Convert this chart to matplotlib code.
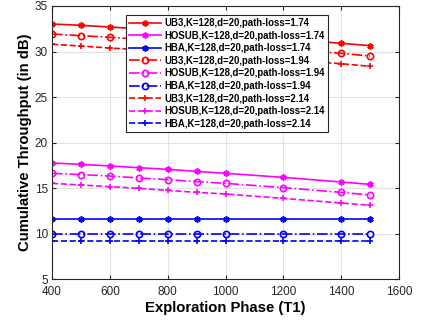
#!/usr/bin/env python3
import numpy as np
import matplotlib
matplotlib.use("Agg")
import matplotlib.pyplot as plt

# Exploration phase lengths (x axis)
t1 = [400, 500, 600, 700, 800, 900, 1000, 1200, 1400, 1500]

# Cumulative throughput (dB) per algorithm / path-loss exponent
ub3_174 = [33.02, 32.88, 32.69, 32.50, 32.30, 32.10, 31.85, 31.40, 30.90, 30.64]
hosub_174 = [17.75, 17.60, 17.42, 17.23, 17.05, 16.83, 16.61, 16.17, 15.66, 15.40]
hba_174 = [11.63] * 10
ub3_194 = [31.92, 31.74, 31.56, 31.35, 31.15, 30.95, 30.75, 30.30, 29.80, 29.50]
hosub_194 = [16.61, 16.47, 16.32, 16.10, 15.92, 15.70, 15.51, 15.04, 14.52, 14.23]
hba_194 = [9.91] * 10
ub3_214 = [30.79, 30.60, 30.38, 30.20, 30.00, 29.80, 29.55, 29.10, 28.66, 28.37]
hosub_214 = [15.51, 15.33, 15.15, 14.96, 14.74, 14.52, 14.34, 13.86, 13.35, 13.10]
hba_214 = [9.21] * 10

plt.rcParams["font.family"] = ["Liberation Sans", "DejaVu Sans"]

series = [
    ("UB3,K=128,d=20,path-loss=1.74", ub3_174, "red", "-", (6, 2, 0)),
    ("HOSUB,K=128,d=20,path-loss=1.74", hosub_174, "magenta", "-", (6, 2, 0)),
    ("HBA,K=128,d=20,path-loss=1.74", hba_174, "blue", "-", (6, 2, 0)),
    ("UB3,K=128,d=20,path-loss=1.94", ub3_194, "red", "-.", "o"),
    ("HOSUB,K=128,d=20,path-loss=1.94", hosub_194, "magenta", "-.", "o"),
    ("HBA,K=128,d=20,path-loss=1.94", hba_194, "blue", "-.", "o"),
    ("UB3,K=128,d=20,path-loss=2.14", ub3_214, "red", "--", "+"),
    ("HOSUB,K=128,d=20,path-loss=2.14", hosub_214, "magenta", "--", "+"),
    ("HBA,K=128,d=20,path-loss=2.14", hba_214, "blue", "--", "+"),
]

fig = plt.figure(figsize=(4.21, 3.26), dpi=100)
ax = fig.add_axes([52 / 421, 1 - 279 / 326, 347 / 421, 273 / 326])

for label, vals, color, ls, mk in series:
    ax.plot(
        t1,
        vals,
        color=color,
        linestyle=ls,
        linewidth=1.2,
        marker=mk,
        markersize=4.5,
        markerfacecolor="none",
        markeredgewidth=1.2,
        label=label,
    )

ax.set_xlim(400, 1600)
ax.set_ylim(5, 35)
ax.set_xticks(np.arange(400, 1601, 200))
ax.set_yticks(np.arange(5, 36, 5))
ax.tick_params(axis="both", direction="in", labelsize=8.5, top=True, right=True,
               length=3, colors="#262626")
ax.tick_params(axis="x", pad=5)
ax.tick_params(axis="y", pad=3)
ax.grid(True, color="#e3e3e3", linewidth=0.8)
for sp in ax.spines.values():
    sp.set_color("#262626")
    sp.set_linewidth(0.8)

ax.set_xlabel("Exploration Phase (T1)", fontsize=10.7, fontweight="bold", labelpad=2)
ax.set_ylabel("Cumulative Throughput (in dB)", fontsize=10.7, fontweight="bold", labelpad=2)

leg = ax.legend(
    loc="upper left",
    bbox_to_anchor=(0.212, 0.968),
    borderaxespad=0,
    prop={"weight": "bold", "size": 6.9},
    handlelength=3.3,
    labelspacing=0.27,
    handletextpad=0.4,
    borderpad=0.35,
    fancybox=False,
    framealpha=1,
    edgecolor="#262626",
)
leg.get_frame().set_linewidth(0.8)

fig.savefig("out.png", dpi=100)
